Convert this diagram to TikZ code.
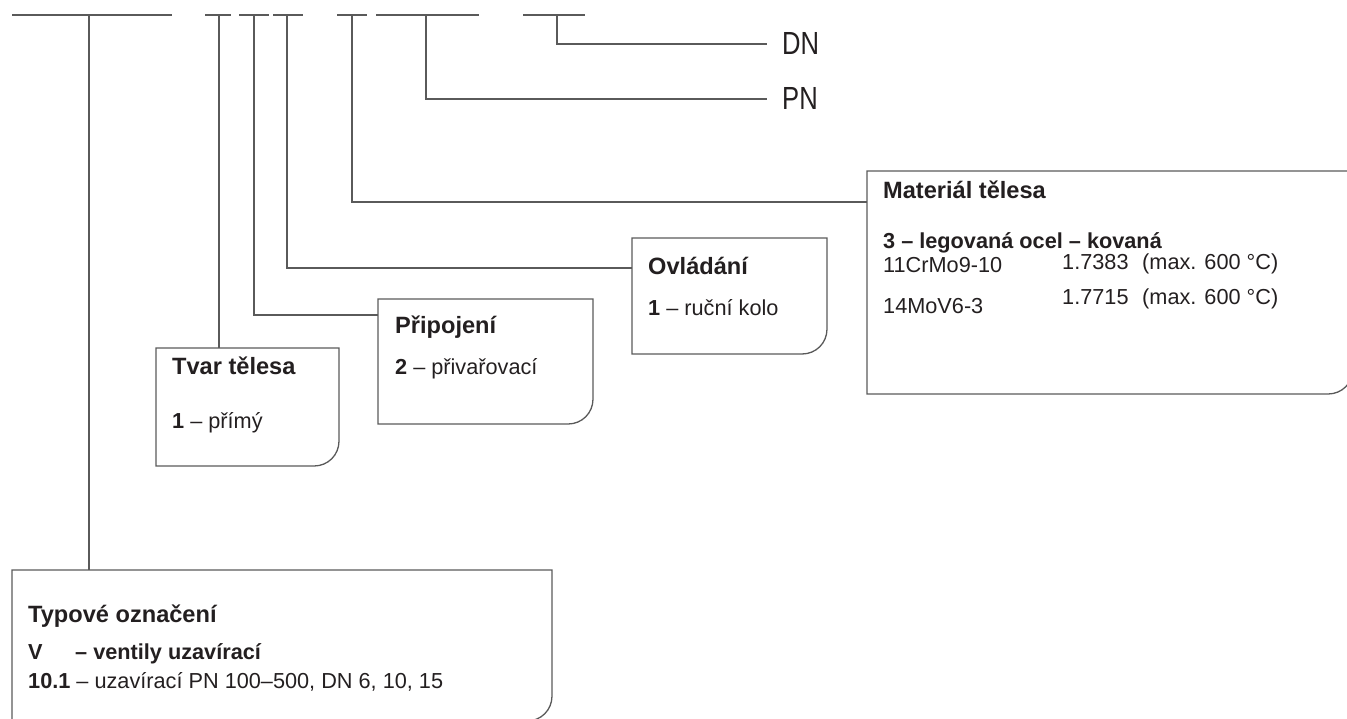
\documentclass[tikz,border=0pt]{standalone}
\usepackage{fontspec}
\setmainfont{Liberation Sans}
\newfontfamily\narrowf[FakeStretch=0.8]{Liberation Sans}
\usetikzlibrary{calc}
\definecolor{ink}{HTML}{231F20}
\definecolor{linec}{HTML}{5A5A5A}
\tikzset{
  conn/.style={draw=linec, line width=1.3pt},
  area/.style={inner sep=0pt, outer sep=0pt, anchor=north west},
  txt/.style={inner sep=0pt, anchor=base west, text=ink, font=\fontsize{21.7}{26}\selectfont},
  ttl/.style={inner sep=0pt, anchor=base west, text=ink, font=\fontsize{23.6}{28}\selectfont\bfseries},
  big/.style={inner sep=0pt, anchor=base west, text=ink, font=\fontsize{32}{36}\selectfont\narrowf},
}
\newcommand{\cbox}[1]{%
  \draw[conn] (#1.north west) -- (#1.north east) -- ([yshift=25pt]#1.south east)
    .. controls ([yshift=11pt]#1.south east) and ([xshift=-11pt]#1.south east) ..
    ([xshift=-25pt]#1.south east) -- (#1.south west) -- cycle;}
\begin{document}
\begin{tikzpicture}[x=1pt,y=-1pt]
\useasboundingbox (0,0) rectangle (1347,719);
% top line segments
\draw[conn] (12,15) -- (172,15);
\draw[conn] (205,15) -- (231,15);
\draw[conn] (239,15) -- (269,15);
\draw[conn] (273,15) -- (303,15);
\draw[conn] (337,15) -- (367,15);
\draw[conn] (376,15) -- (479,15);
\draw[conn] (523,15) -- (585,15);
\coordinate (c1) at (89,15);
\coordinate (c2) at (219,15);
\coordinate (c3) at (254,15);
\coordinate (c4) at (287,15);
\coordinate (c5) at (352,15);
\coordinate (c6) at (426,15);
\coordinate (c7) at (557,15);
% boxes
\node[area, minimum width=540pt, minimum height=151pt] (typ) at (12,570) {};
\node[area, minimum width=183pt, minimum height=118pt] (tvar) at (156,348) {};
\node[area, minimum width=215pt, minimum height=125pt] (pri) at (378,299) {};
\node[area, minimum width=195pt, minimum height=116pt] (ovl) at (632,238) {};
\node[area, minimum width=486pt, minimum height=223pt] (mat) at (867,171) {};
\cbox{typ}\cbox{tvar}\cbox{pri}\cbox{ovl}\cbox{mat}
% DN / PN
\node[big] (dn) at (782,55) {DN};
\node[big] (pn) at (782,110) {PN};
% connectors
\draw[conn] (c1) -- (c1 |- typ.north);
\draw[conn] (c2) -- (c2 |- tvar.north);
\draw[conn] (c3) |- ([yshift=-16pt]pri.north west);
\draw[conn] (c4) |- ([yshift=-30pt]ovl.north west);
\draw[conn] (c5) |- ([yshift=-31pt]mat.north west);
\draw[conn] (c6) |- ([xshift=-15pt]pn.west);
\draw[conn] (c7) |- ([xshift=-15pt]dn.west);
% texts
\node[ttl] (typ1) at (28,622) {Typové označení};
\node[txt] (typ2) at (28,659) {\bfseries V};
\node[txt] (typ3) at (75,659) {\bfseries – ventily uzavírací};
\node[txt] (typ4) at (28,688) {\textbf{10.1} – uzavírací PN 100–500, DN 6, 10, 15};
\node[ttl] (tvar1) at (172,374) {Tvar tělesa};
\node[txt] (tvar2) at (172,428) {\textbf{1} – přímý};
\node[ttl] (pri1) at (395,334) {Připojení};
\node[txt] (pri2) at (395,374) {\textbf{2} – přivařovací};
\node[ttl] (ovl1) at (648,275) {Ovládání};
\node[txt] (ovl2) at (648,316) {\textbf{1} – ruční kolo};
\node[ttl] (mat1) at (883,199) {Materiál tělesa};
\node[txt] (mat2) at (883,249) {\bfseries 3 – legovaná ocel – kovaná};
\node[txt] (mat3) at (883,273) {11CrMo9-10};
\node[txt] (mat4) at (1062,270) {1.7383};
\node[txt] (mat5) at (1142,270) {(max. 600 °C)};
\node[txt] (mat6) at (883,314) {14MoV6-3};
\node[txt] (mat7) at (1062,305) {1.7715};
\node[txt] (mat8) at (1142,305) {(max. 600 °C)};
\end{tikzpicture}
\end{document}
